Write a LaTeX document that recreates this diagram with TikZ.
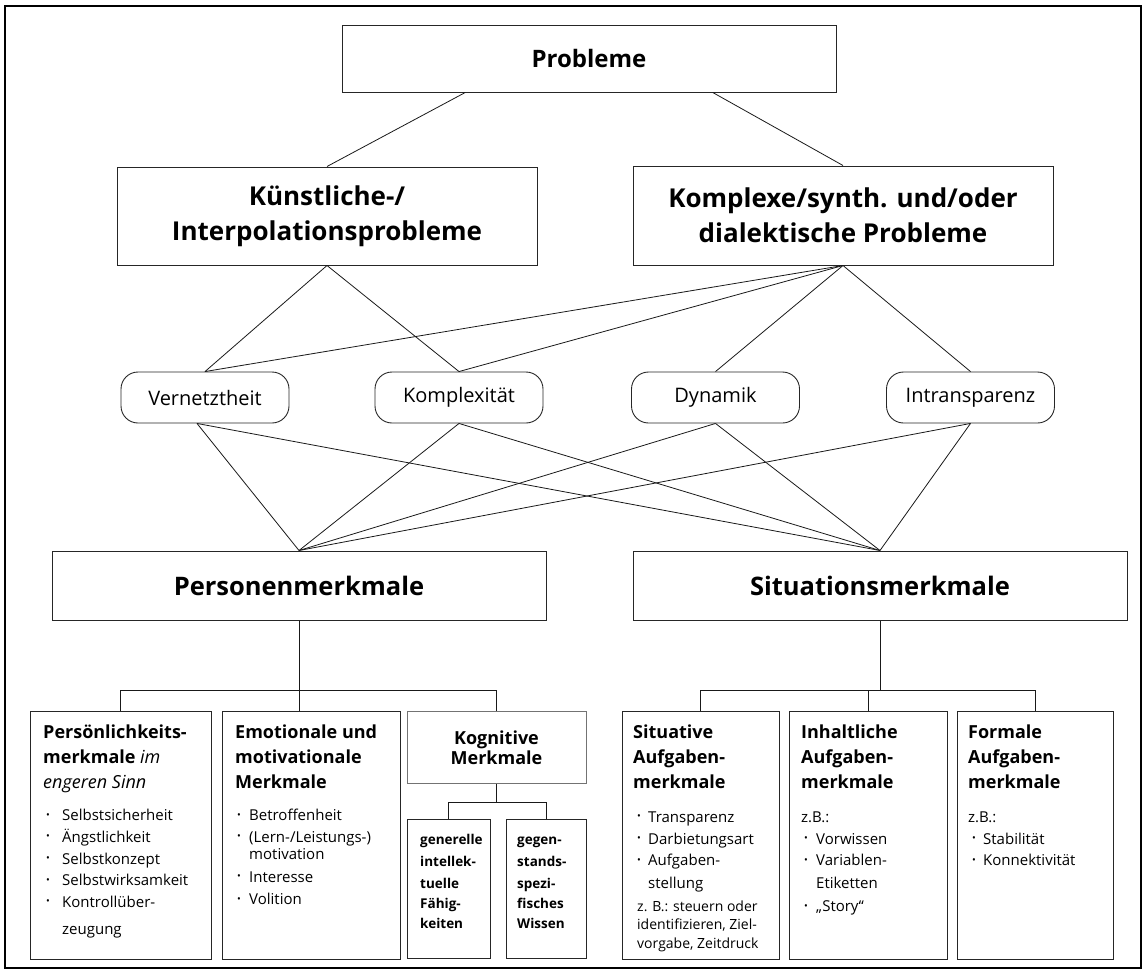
\documentclass[tikz,border=0pt]{standalone}
\usepackage{fontspec}
\setmainfont{Open Sans}
\usetikzlibrary{calc}
\newcommand\fs[2]{\fontsize{#1}{#2}\selectfont}
\newcommand\bdot{\raisebox{0.15em}{\fs{10}{10}•}}
\begin{document}
\begin{tikzpicture}[x=1pt,y=-1pt,
  box/.style={draw=black!85, line width=1pt, inner sep=0pt},
  oval/.style={draw=black!85, line width=0.9pt, rounded corners=17pt, minimum width=168pt, minimum height=51pt, inner sep=0pt, font=\fs{20}{24}},
  con/.style={draw=black!90, line width=0.8pt},
  big/.style={font=\bfseries\fs{26}{35}, align=center, inner sep=0pt},
  ttl/.style={font=\bfseries\fs{18}{25}, anchor=base west, inner sep=0pt},
  ttc/.style={font=\bfseries\fs{18}{25}, anchor=base, inner sep=0pt},
  itm/.style={font=\fs{15}{20}, anchor=base west, inner sep=0pt},
  sml/.style={font=\fs{14}{18}, anchor=base west, inner sep=0pt},
  sub/.style={font=\bfseries\fs{13.5}{20}, anchor=base west, inner sep=0pt}]
\newcommand\bitem[5]{\node[itm] (#1b) at (#2,#4) {\bdot}; \node[itm] (#1) at (#3,#4) {#5};}
\useasboundingbox (0,0) rectangle (1146,974);
\draw[line width=1.2pt] (5,6) rectangle (1141,968);
% top level
\node[box, minimum width=494pt, minimum height=66pt, font=\bfseries\fs{24}{30}] (prob) at (589,59) {Probleme};
\node[box, minimum width=420pt, minimum height=98pt] (kuen) at (327,216) {};
\node[big] (kuent) at (kuen.center) {Künstliche-/\\Interpolationsprobleme};
\node[box, minimum width=420pt, minimum height=99pt] (komp) at (843,215.5) {};
\node[big] (kompt) at (komp.center) {Komplexe/synth. und/oder\\dialektische Probleme};
% ovals
\node[oval] (vern) at (205,397.5) {Vernetztheit};
\node[oval] (kplx) at (459,397.5) {Komplexität};
\node[oval] (dyn) at (715.5,397.5) {Dynamik};
\node[oval] (intr) at (970.5,397.5) {Intransparenz};
% second level
\node[box, minimum width=494pt, minimum height=69pt, font=\bfseries\fs{25.5}{30}] (pers) at (299,585.5) {Personenmerkmale};
\node[box, minimum width=494pt, minimum height=69pt, font=\bfseries\fs{25.5}{30}] (sit) at (880,585.5) {Situationsmerkmale};
% bottom boxes
\node[box, minimum width=181pt, minimum height=248pt] (p1) at (120.5,835) {};
\node[box, minimum width=178pt, minimum height=248pt] (p2) at (311,835) {};
\node[box, draw=black!55, minimum width=179pt, minimum height=72pt] (p3) at (496.5,747) {};
\node[box, minimum width=83pt, minimum height=139pt] (p3a) at (448.5,888.5) {};
\node[box, minimum width=80pt, minimum height=139pt] (p3b) at (546,888.5) {};
\node[box, minimum width=157pt, minimum height=248pt] (s1) at (700.5,835) {};
\node[box, minimum width=158pt, minimum height=248pt] (s2) at (868,835) {};
\node[box, minimum width=156pt, minimum height=248pt] (s3) at (1035,835) {};
% connectors top
\draw[con] ($(prob.south west)!0.25!(prob.south east)$) -- (kuen.north);
\draw[con] ($(prob.south west)!0.75!(prob.south east)$) -- (komp.north);
\draw[con] (kuen.south) -- (vern.north);
\draw[con] (kuen.south) -- (kplx.north);
\foreach \o in {vern,kplx,dyn,intr} \draw[con] (komp.south) -- (\o.north);
\coordinate (vb) at ($(vern.south)+(-8,0)$);
\foreach \o in {vb,kplx.south,dyn.south,intr.south} {\draw[con] (\o) -- (pers.north); \draw[con] (\o) -- (sit.north);}
% trees
\coordinate (pj) at (299,690);
\draw[con] (pers.south) -- (pj);
\draw[con] (p1.north) -- (p1.north |- pj) -- (p3.north |- pj) -- (p3.north);
\draw[con] (pj) -- (pj |- p2.north);
\coordinate (sj) at (880,690);
\draw[con] (sit.south) -- (sj);
\draw[con] (s1.north) -- (s1.north |- sj) -- (s3.north |- sj) -- (s3.north);
\draw[con] (s2.north) -- (s2.north |- sj);
\coordinate (kj) at (496.5,802);
\draw[con] (p3.south) -- (kj);
\draw[con] (p3a.north) -- (p3a.north |- kj) -- (p3b.north |- kj) -- (p3b.north);
% Persoenlichkeitsmerkmale
\node[ttl] (p1t1) at (43,738) {Persönlichkeits-};
\node[ttl] (p1t2) at (43,763) {merkmale \textit{\mdseries im}};
\node[ttl, font=\itshape\fs{18}{25}] (p1t3) at (43,788) {engeren Sinn};
\bitem{p1i1}{46}{62}{820.5}{Selbstsicherheit}
\bitem{p1i2}{46}{62}{842}{Ängstlichkeit}
\bitem{p1i3}{46}{62}{864}{Selbstkonzept}
\bitem{p1i4}{46}{62}{885.5}{Selbstwirksamkeit}
\bitem{p1i5}{46}{62}{907}{Kontrollüber-}
\node[itm] (p1i6) at (62,934) {zeugung};
% Emotionale
\node[ttl] (p2t1) at (235,738) {Emotionale und};
\node[ttl] (p2t2) at (235,763) {motivationale};
\node[ttl] (p2t3) at (235,788) {Merkmale};
\bitem{p2i1}{237}{249}{820.5}{Betroffenheit}
\bitem{p2i2}{237}{249}{842}{(Lern-/Leistungs-)}
\node[itm] (p2i3) at (249,859.5) {motivation};
\bitem{p2i4}{237}{249}{882}{Interesse}
\bitem{p2i5}{237}{249}{904.5}{Volition}
% Kognitive
\node[ttc] (p3t1) at (496.5,744) {Kognitive};
\node[ttc] (p3t2) at (496.5,764) {Merkmale};
\node[sub] (p3a1) at (420,844.5) {generelle};
\node[sub] (p3a2) at (420,866) {intellek-};
\node[sub] (p3a3) at (420,888) {tuelle};
\node[sub] (p3a4) at (420,908) {Fähig-};
\node[sub] (p3a5) at (420,928) {keiten};
\node[sub] (p3b1) at (517,844.5) {gegen-};
\node[sub] (p3b2) at (517,866) {stands-};
\node[sub] (p3b3) at (517,888) {spezi-};
\node[sub] (p3b4) at (517,908) {fisches};
\node[sub] (p3b5) at (517,928) {Wissen};
% Situative
\node[ttl] (s1t1) at (633,738) {Situative};
\node[ttl] (s1t2) at (633,763) {Aufgaben-};
\node[ttl] (s1t3) at (633,788) {merkmale};
\bitem{s1i1}{637}{648}{822}{Transparenz}
\bitem{s1i2}{637}{648}{844}{Darbietungsart}
\bitem{s1i3}{637}{648}{865.5}{Aufgaben-}
\node[itm] (s1i4) at (648,888) {stellung};
\node[sml] (s1z1) at (637,911) {z. B.: steuern oder};
\node[sml] (s1z2) at (637,929.5) {identifizieren, Ziel-};
\node[sml] (s1z3) at (637,948) {vorgabe, Zeitdruck};
% Inhaltliche
\node[ttl] (s2t1) at (801,738) {Inhaltliche};
\node[ttl] (s2t2) at (801,763) {Aufgaben-};
\node[ttl] (s2t3) at (801,788) {merkmale};
\node[itm] (s2z) at (801,822) {z.B.:};
\bitem{s2i1}{804}{816}{844}{Vorwissen}
\bitem{s2i2}{804}{816}{865.5}{Variablen-}
\node[itm] (s2i3) at (816,888) {Etiketten};
\bitem{s2i4}{804}{816}{911.5}{„Story“}
% Formale
\node[ttl] (s3t1) at (968,738) {Formale};
\node[ttl] (s3t2) at (968,763) {Aufgaben-};
\node[ttl] (s3t3) at (968,788) {merkmale};
\node[itm] (s3z) at (968,822) {z.B.:};
\bitem{s3i1}{972}{983}{844}{Stabilität}
\bitem{s3i2}{972}{983}{865.5}{Konnektivität}
\end{tikzpicture}
\end{document}
